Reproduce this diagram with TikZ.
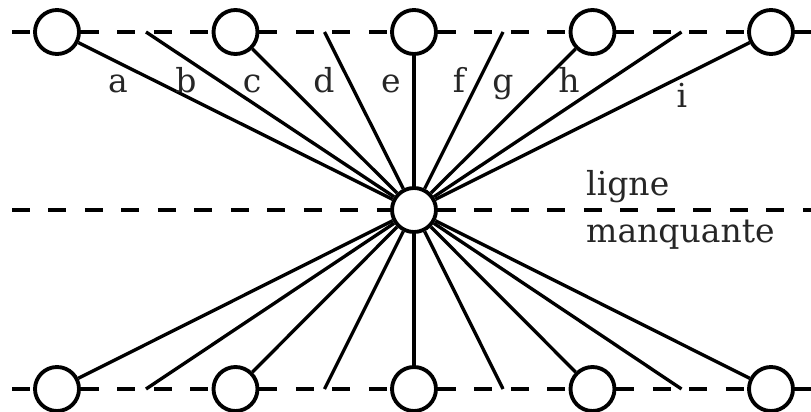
\documentclass[tikz,border=0pt]{standalone}
\usepackage{tikz}
\usepackage{fontspec}
\setmainfont{DejaVu Serif}

\begin{document}
\begin{tikzpicture}[x=0.02cm,y=-0.02cm,
    station/.style={draw,circle,fill=white,line width=2.2pt,inner sep=0pt,minimum size=0.88cm},
    ray/.style={line width=1.9pt},
    rail/.style={line width=2.3pt,dash pattern=on 0.36cm off 0.37cm},
    lbl/.style={anchor=base,text=black!85,font=\fontsize{18.8}{23}\selectfont}]
    \useasboundingbox (0,0) rectangle (811,412);
    % stations
    \node [station] (M) at (414,210) {};
    \foreach \k in {1,...,5} {
        \node [station] (T\k) at ({57+178.5*(\k-1)},32) {};
        \node [station] (B\k) at ({57+178.5*(\k-1)},389) {};
    }
    \foreach \k in {1,...,4} {
        \coordinate (TM\k) at ({146+178.5*(\k-1)},32);
        \coordinate (BM\k) at ({146+178.5*(\k-1)},389);
    }
    \coordinate (TL) at (12,32);
    \coordinate (TR) at (811,32);
    \coordinate (ML) at (12,210);
    \coordinate (MR) at (811,210);
    \coordinate (BL) at (12,389);
    \coordinate (BR) at (811,389);
    % dashed lines
    \draw [rail] (TL) -- (T1) -- (T2) -- (T3) -- (T4) -- (T5) -- (TR);
    \draw [rail] (ML) -- (M) -- (MR);
    \draw [rail] (BL) -- (B1) -- (B2) -- (B3) -- (B4) -- (B5) -- (BR);
    % rays
    \foreach \k in {1,...,5} {
        \draw [ray] (M) -- (T\k);
        \draw [ray] (M) -- (B\k);
    }
    \foreach \k in {1,...,4} {
        \draw [ray] (M) -- (TM\k);
        \draw [ray] (M) -- (BM\k);
    }
    % labels
    \foreach \x/\t in {118/a,186/b,252/c,324/d,391/e,459/f,503/g,569/h} {
        \node [lbl] (l\t) at (\x,92) {\t};
    }
    \node [lbl] (li) at (682,108) {i};
    \node [lbl,anchor=base west] (ligne) at (580,195) {ligne};
    \node [lbl,anchor=base west] (manquante) at (580,242) {manquante};
\end{tikzpicture}
\end{document}
